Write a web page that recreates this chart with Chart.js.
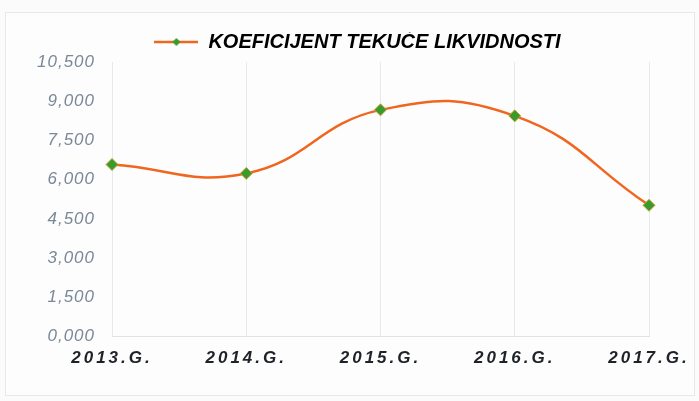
<!DOCTYPE html>
<html>
<head>
<meta charset="utf-8">
<script src="https://cdn.jsdelivr.net/npm/chart.js@4/dist/chart.umd.min.js"></script>
<style>
    html, body { margin: 0; padding: 0; background: #fbfbfc; }
    #wrap { position: relative; width: 699px; height: 401px; }
    #frame { position: absolute; left: 5px; top: 12px; width: 688px; height: 382px; border: 1px solid #e6e8ec; background: #fdfdfe; }
    #chart { position: absolute; left: 0; top: 0; }
</style>
</head>
<body>
<div id="wrap">
    <div id="frame"></div>
    <canvas id="chart" width="699" height="401"></canvas>
</div>
<script>
// Podaci
const years = ['2013.G.', '2014.G.', '2015.G.', '2016.G.', '2017.G.'];
const koeficijent = [6.58, 6.24, 8.67, 8.44, 5.02];
const seriesLabel = 'KOEFICIJENT TEKUĆE LIKVIDNOSTI';
const yTickValues = [0, 1.5, 3, 4.5, 6, 7.5, 9, 10.5];

const lineColor = '#f0661f';
const markerColor = '#3a9a2c';

// Skala s razmakom slova (Excel-ov razvučeni font)
function withLetterSpacing(Base, id, spacing) {
    class Spaced extends Base {
        drawLabels(area) {
            const ctx = this.ctx;
            ctx.save();
            ctx.letterSpacing = spacing;
            super.drawLabels(area);
            ctx.restore();
        }
    }
    Spaced.id = id;
    Spaced.defaults = Base.defaults;
    return Spaced;
}
Chart.register(
    withLetterSpacing(Chart.CategoryScale, 'spacedCategory', '3px'),
    withLetterSpacing(Chart.LinearScale, 'spacedLinear', '1px')
);

// Ikona legende: linija s rombom
function legendIcon() {
    const c = document.createElement('canvas');
    c.width = 44;
    c.height = 14;
    const g = c.getContext('2d');
    g.strokeStyle = lineColor;
    g.lineWidth = 2.5;
    g.beginPath();
    g.moveTo(0, 7);
    g.lineTo(44, 7);
    g.stroke();
    g.fillStyle = markerColor;
    g.beginPath();
    g.moveTo(22, 3);
    g.lineTo(26, 7);
    g.lineTo(22, 11);
    g.lineTo(18, 7);
    g.closePath();
    g.fill();
    return c;
}
const icon = legendIcon();

const shiftLegend = {
    id: 'shiftLegend',
    afterLayout(chart) {
        chart.legend.left += 33;
        chart.legend.right += 33;
    }
};

new Chart(document.getElementById('chart'), {
    type: 'line',
    data: {
        labels: years,
        datasets: [{
            label: seriesLabel,
            data: koeficijent,
            borderColor: lineColor,
            borderWidth: 2.5,
            tension: 0.45,
            pointStyle: 'rectRot',
            pointRadius: 6,
            pointBackgroundColor: markerColor,
            pointBorderColor: '#c9a233',
            pointBorderWidth: 1,
            fill: false
        }]
    },
    options: {
        responsive: false,
        animation: false,
        layout: {
            padding: { top: 32, right: 50, bottom: 20, left: 0 }
        },
        plugins: {
            tooltip: { enabled: false },
            legend: {
                position: 'top',
                labels: {
                    usePointStyle: true,
                    pointStyleWidth: 44,
                    padding: 0,
                    color: '#3b5670',
                    font: { family: 'Liberation Sans, Arial, sans-serif', size: 20, weight: 'bold', style: 'italic', lineHeight: 1 },
                    generateLabels: (chart) => [{
                        text: seriesLabel,
                        pointStyle: icon,
                        fillStyle: markerColor,
                        strokeStyle: lineColor,
                        lineWidth: 0,
                        datasetIndex: 0
                    }]
                }
            }
        },
        scales: {
            x: {
                type: 'spacedCategory',
                offset: false,
                grid: { display: true, color: '#e6e9ed', drawTicks: false },
                border: { display: true, color: '#dfe2e6' },
                ticks: {
                    padding: 12,
                    color: '#1f2328',
                    maxRotation: 0,
                    font: { family: 'Liberation Sans, Arial, sans-serif', size: 17, weight: 'bold', style: 'italic' }
                }
            },
            y: {
                type: 'spacedLinear',
                min: 0,
                max: 10.5,
                afterBuildTicks: (scale) => {
                    scale.ticks = yTickValues.map(v => ({ value: v }));
                },
                afterFit: (scale) => { scale.width = 112; },
                grid: { display: false, drawTicks: false },
                border: { display: false },
                ticks: {
                    padding: 17,
                    color: '#7b8898',
                    font: { family: 'Liberation Sans, Arial, sans-serif', size: 17, style: 'italic' },
                    callback: (v) => v.toFixed(3).replace('.', ',')
                }
            }
        }
    },
    plugins: [shiftLegend]
});
</script>
</body>
</html>
